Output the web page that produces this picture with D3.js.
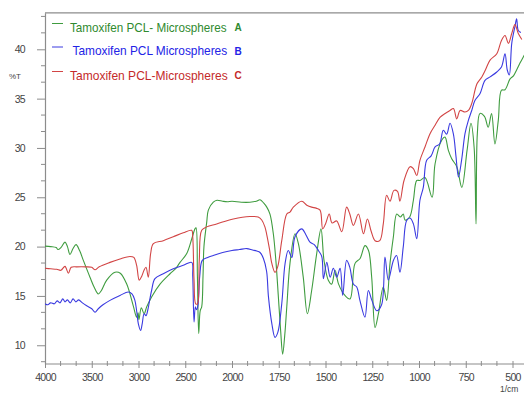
<!DOCTYPE html>
<html><head><meta charset="utf-8">
<script src="https://cdn.jsdelivr.net/npm/d3@7"></script>
<style>body{margin:0;background:#fff}svg{display:block}</style>
</head><body>
<script>
// ---- data ----
const seriesNames = ["Tamoxifen PCL- Microspheres", "Tamoxifen PCL Microspheres", "Tamoxifen PCL-Microspheres"];
const seriesTags = ["A", "B", "C"];
const xTicks = [4000, 3500, 3000, 2500, 2000, 1750, 1500, 1250, 1000, 750, 500];
const yTicks = [10, 15, 20, 25, 30, 35, 40];

const waveA = [4000,3940,3880,3861,3830,3786,3760,3733,3700,3668,3630,3590,3519,3470,3430,3400,3340,3251,3195,3126,3056,3020,3005,2995,2970,2940,2912,2860,2770,2663,2600,2556,2484,2430,2396,2385,2370,2356,2340,2324,2310,2300,2270,2253,2200,2160,2100,2050,2000,1950,1904,1870,1850,1830,1814,1797,1779,1765,1752,1740,1729,1718,1707,1690,1663,1645,1619,1597,1574,1547,1524,1508,1485,1467,1449,1430,1396,1369,1342,1315,1289,1270,1253,1235,1217,1191,1173,1155,1137,1119,1100,1084,1075,1050,1030,1012,995,968,930,914,878,861,843,825,798,771,743,722,705,695,688,674,650,630,612,594,576,559,540,513,495,478,460,443,420];
const valA = [20.05,20.0,19.9,19.7,19.9,20.45,20.0,19.2,19.8,20.2,19.6,18.6,16.9,15.8,15.2,15.5,16.6,17.4,17.3,16.2,14.0,12.85,13.3,12.6,13.8,13.2,13.9,14.9,16.2,17.25,17.8,18.4,19.3,20.8,21.8,21.9,17.0,11.2,13.5,13.9,17.0,20.0,22.5,23.7,24.5,24.7,24.6,24.55,24.6,24.5,24.5,24.6,24.75,24.4,24.0,23.3,21.3,18.5,14.9,11.5,9.1,11.0,13.9,18.3,21.3,20.3,16.9,13.2,15.55,19.3,21.8,18.6,16.6,16.2,17.6,16.2,15.05,14.7,18.3,18.8,20.1,19.6,16.9,11.8,13.2,15.9,14.55,18.3,21.0,23.3,23.0,23.3,22.7,23.0,24.7,26.7,26.7,27.0,25.0,28.4,30.8,31.1,29.75,28.9,28.1,26.0,29.75,32.5,30.0,22.3,31.45,33.5,33.2,32.1,33.5,30.4,32.8,35.85,35.9,37.0,37.3,37.9,38.6,39.2,40.0];

const waveB = [4000,3970,3940,3900,3870,3840,3810,3786,3760,3730,3700,3670,3640,3600,3554,3500,3465,3430,3380,3305,3198,3109,3070,3040,3020,3002,2977,2960,2940,2920,2900,2880,2860,2824,2735,2628,2521,2431,2420,2406,2392,2380,2365,2345,2318,2260,2200,2100,2000,1960,1921,1890,1868,1850,1832,1815,1805,1787,1770,1755,1734,1716,1699,1680,1663,1627,1605,1583,1560,1538,1520,1511,1493,1475,1458,1440,1422,1408,1387,1370,1351,1333,1316,1289,1271,1253,1226,1200,1182,1164,1137,1120,1102,1084,1066,1048,1030,1012,995,977,959,935,914,890,870,852,834,816,802,789,772,754,736,718,701,674,647,620,584,559,540,528,517,504,487,478,469,455];
const valB = [14.2,14.1,14.3,14.2,14.5,14.3,14.7,14.4,14.6,14.3,14.7,14.4,14.6,14.3,14.0,13.7,13.35,13.7,14.1,14.55,15.05,15.4,15.2,14.6,13.5,12.2,11.5,12.2,13.2,13.0,13.6,14.6,15.55,16.75,17.25,17.75,18.1,18.4,17.0,12.35,13.9,13.6,14.0,17.0,18.6,18.9,19.1,19.4,19.6,19.7,19.8,19.65,19.55,19.4,18.8,17.5,14.9,12.2,10.8,11.3,14.2,18.3,19.6,18.9,21.0,21.8,21.2,20.45,20.2,19.6,19.0,16.75,18.4,16.9,17.8,16.9,17.8,15.05,18.6,17.9,16.2,15.9,14.55,12.85,15.55,14.6,13.5,14.1,18.95,16.6,18.6,19.1,17.4,20.0,22.65,22.9,22.3,20.8,24.7,26.0,28.75,29.2,30.1,30.4,31.8,31.4,32.5,31.4,29.1,27.05,28.8,31.45,32.8,33.8,34.8,35.5,36.85,37.2,37.7,38.2,39.55,37.9,37.4,40.6,42.3,43.1,41.9,41.7];

const waveC = [4000,3940,3875,3830,3786,3750,3720,3661,3560,3500,3465,3420,3305,3198,3091,3050,3020,2992,2965,2941,2920,2895,2870,2841,2735,2628,2521,2431,2420,2406,2388,2370,2350,2324,2271,2164,1993,1904,1860,1841,1824,1814,1800,1787,1770,1755,1734,1707,1690,1672,1627,1600,1574,1550,1529,1515,1500,1480,1465,1440,1413,1387,1370,1351,1324,1297,1276,1255,1235,1210,1191,1173,1155,1134,1115,1102,1080,1048,1030,1012,995,968,941,914,888,860,834,816,798,780,754,736,718,690,664,645,620,584,559,540,522,504,487,469,450];
const valC = [17.8,17.75,17.7,17.6,18.0,17.3,17.9,17.95,17.95,17.9,17.65,17.95,18.4,18.75,19.0,18.9,18.1,16.6,17.0,17.6,17.9,16.9,19.3,20.3,20.6,21.0,21.4,21.65,21.0,16.6,14.2,14.2,18.6,21.65,22.0,22.3,22.8,23.05,23.0,22.7,22.0,21.2,19.8,18.3,17.4,18.0,20.6,23.3,23.5,24.0,24.6,24.2,24.0,23.9,23.7,21.8,22.3,23.3,22.4,22.6,21.5,24.0,23.3,22.15,23.3,21.3,22.8,21.5,20.6,20.6,22.3,25.2,24.6,25.7,25.6,24.6,26.7,28.1,27.9,27.2,28.75,30.1,31.45,32.3,33.1,33.5,33.8,34.0,32.95,33.8,33.65,33.8,34.5,36.5,37.2,37.9,38.9,39.55,40.9,41.4,40.6,41.6,42.5,41.6,41.0];

const seriesColors = ["#3f9c3f", "#3a3ae0", "#d24545"];
const textColors = ["#2f8a2f", "#2323e6", "#c42a2a"];

// ---- chart ----
const W = 524, H = 395;
const svg = d3.select("body").append("svg").attr("width", W).attr("height", H)
  .style("font-family", "'Liberation Sans', Arial, sans-serif");

const x = d3.scaleLinear().domain([4000, 2000, 400]).range([45, 232, 531.2]);
const y = d3.scaleLinear().domain([8.1, 43.7]).range([364, 12.8]);

const axisColor = "#8c8c8c";
svg.append("clipPath").attr("id", "clip").append("rect")
  .attr("x", 45).attr("y", 12.8).attr("width", W - 45).attr("height", 364 - 12.8);

// frame: top line
svg.append("line").attr("x1", 45).attr("x2", W).attr("y1", 12.8).attr("y2", 12.8)
  .attr("stroke", axisColor).attr("stroke-width", 1.2);

// minor ticks
const xMinor = [];
for (let i = 0; i < xTicks.length - 1; i++) {
  const a = xTicks[i], b = xTicks[i + 1];
  for (let k = 1; k < 3; k++) xMinor.push(a + (b - a) * k / 3);
}
xMinor.push(500 - 250 / 3);
const yMinor = [];
for (let v = 10 - 5 / 3; v < 43.7; v += 5 / 3) {
  if (Math.abs(Math.round(v / 5) * 5 - v) > 0.01) yMinor.push(v);
}

// x axis
const gx = svg.append("g").attr("transform", "translate(0,364)")
  .call(d3.axisBottom(x).tickValues(xTicks).tickFormat(d3.format("d"))
    .tickSizeInner(4).tickSizeOuter(0).tickPadding(6));
gx.select(".domain").attr("stroke", axisColor).attr("stroke-width", 1.2).attr("d", "M45,0H" + W);
gx.selectAll(".tick line").attr("stroke", axisColor).attr("y1", -3);
gx.selectAll(".tick text").attr("fill", "#444").attr("font-size", "10.5px").style("letter-spacing", "-0.7px");
svg.append("g").selectAll("line").data(xMinor).join("line")
  .attr("x1", d => x(d)).attr("x2", d => x(d)).attr("y1", 361).attr("y2", 366)
  .attr("stroke", axisColor);

// y axis
const gy = svg.append("g").attr("transform", "translate(45,0)")
  .call(d3.axisLeft(y).tickValues(yTicks).tickSizeInner(8).tickSizeOuter(0).tickPadding(12));
gy.select(".domain").attr("stroke", axisColor).attr("stroke-width", 1.2);
gy.selectAll(".tick line").attr("stroke", axisColor);
gy.selectAll(".tick text").attr("fill", "#444").attr("font-size", "10.5px").style("letter-spacing", "-0.7px");
svg.append("g").selectAll("line").data(yMinor).join("line")
  .attr("x1", 41).attr("x2", 45).attr("y1", d => y(d)).attr("y2", d => y(d))
  .attr("stroke", axisColor);

// axis titles
svg.append("text").attr("x", 9).attr("y", 79).attr("font-size", "8px").attr("fill", "#444").text("%T");
svg.append("text").attr("x", 500).attr("y", 392).attr("font-size", "8.5px").attr("fill", "#444").text("1/cm");

// lines
const line = d3.line().x(d => x(d[0])).y(d => y(d[1])).curve(d3.curveCatmullRom.alpha(0.5));
const series = [d3.zip(waveA, valA), d3.zip(waveB, valB), d3.zip(waveC, valC)];
svg.append("g").attr("clip-path", "url(#clip)").selectAll("path").data(series).join("path")
  .attr("d", line).attr("fill", "none")
  .attr("stroke", (d, i) => seriesColors[i]).attr("stroke-width", 1.1)
  .attr("stroke-linejoin", "round");

// legend
const legY = [23.5, 47, 71.5];
const txtX = [70, 72.5, 70];
const txtScale = [0.9, 0.915, 0.925];
const lg = svg.append("g");
seriesNames.forEach((name, i) => {
  lg.append("line").attr("x1", 52).attr("x2", 63).attr("y1", legY[i]).attr("y2", legY[i])
    .attr("stroke", seriesColors[i]).attr("stroke-width", 1);
  lg.append("text")
    .attr("transform", `translate(${txtX[i]},${legY[i] + 8}) scale(${txtScale[i]},1)`)
    .attr("font-size", "13px").attr("fill", textColors[i]).text(name);
  lg.append("text").attr("x", 234.5).attr("y", legY[i] + 7.5)
    .attr("font-size", "10px").attr("font-weight", "bold").attr("fill", textColors[i]).text(seriesTags[i]);
});
</script>
</body></html>
